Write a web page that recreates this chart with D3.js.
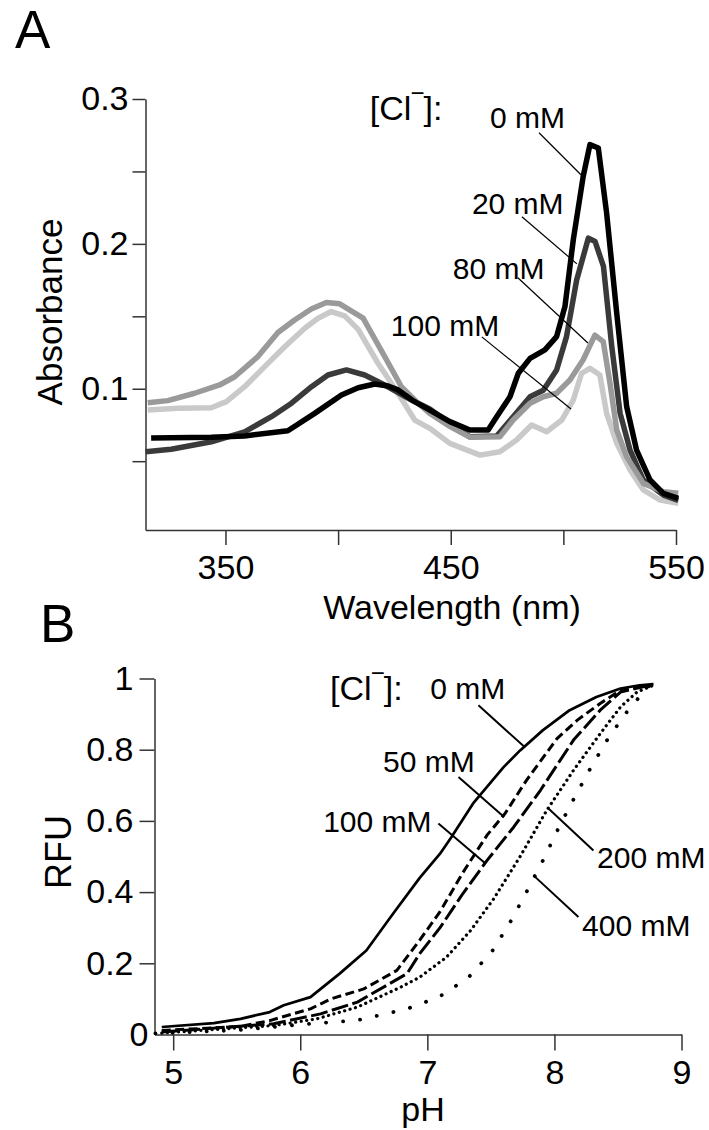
<!DOCTYPE html>
<html>
<head>
<meta charset="utf-8">
<script src="https://cdn.jsdelivr.net/npm/d3@7"></script>
<style>
body { margin: 0; background: #fff; }
svg { display: block; }
text { font-family: "Liberation Sans", Arial, sans-serif; fill: #000; }
</style>
</head>
<body>
<script>
// ---- panel A : absorbance spectra, [nm, absorbance]
var abs0 = [[317,0.066],[343.7,0.0665],[358.5,0.0674],[377.7,0.071],[389.6,0.083],[401.5,0.0957],[408.9,0.1007],[416.3,0.1033],[422.2,0.1019],[426.6,0.0992],[433,0.092],[440.7,0.0853],[449.6,0.0773],[458.5,0.0715],[466.6,0.0715],[470.4,0.0807],[476.3,0.0945],[480,0.1107],[485.2,0.121],[491.8,0.1268],[497,0.136],[500.7,0.1567],[504.4,0.2028],[508.8,0.2466],[511.8,0.2685],[515.5,0.2662],[519.2,0.2213],[523.7,0.152],[528.1,0.0876],[532.5,0.0577],[538.5,0.037],[544.4,0.0278],[551,0.0243]];
var abs20 = [[314.5,0.0565],[325.9,0.0582],[343.7,0.0634],[358.5,0.0703],[370.4,0.0807],[379.3,0.09],[388.2,0.1014],[395.5,0.1095],[403.7,0.113],[411.8,0.1095],[420.7,0.1026],[432.6,0.0922],[440.7,0.086],[449.6,0.076],[458.5,0.0669],[470.4,0.0674],[477.7,0.0807],[485.2,0.0945],[491.1,0.099],[497,0.113],[501.4,0.136],[505.9,0.175],[511.1,0.204],[514.1,0.2016],[517.8,0.1844],[521.5,0.129],[525.2,0.083],[529.6,0.0577],[535.5,0.037],[544.4,0.0266],[551,0.023]];
var abs80 = [[315.5,0.0904],[324.4,0.0918],[336.3,0.0969],[347.4,0.1026],[354.1,0.1083],[364.4,0.1222],[373.3,0.1388],[380.7,0.1475],[388.1,0.155],[394.8,0.1595],[400.7,0.1586],[411.1,0.1487],[420.7,0.1222],[428.1,0.1014],[435.5,0.09],[440.7,0.083],[449.6,0.074],[458.5,0.0665],[471.8,0.0669],[477.7,0.0784],[485.2,0.09],[491.1,0.0945],[497,0.0969],[502.9,0.106],[508.8,0.12],[514,0.137],[517.7,0.1325],[520.7,0.1038],[523.7,0.0715],[528.1,0.053],[535.5,0.0347],[544.4,0.0289],[551,0.0278]];
var abs100 = [[315.5,0.0853],[328.9,0.0865],[343.7,0.0869],[350.4,0.0911],[358.5,0.1014],[367.4,0.1153],[376.3,0.129],[385.2,0.1418],[391.1,0.1487],[397,0.1533],[402.9,0.1503],[408.9,0.141],[417.7,0.1176],[426.6,0.0969],[434,0.0784],[440.7,0.0727],[449.6,0.0623],[463,0.0542],[471.8,0.0565],[479.2,0.0646],[485.9,0.075],[492.6,0.0703],[499.3,0.0784],[504.4,0.0922],[508.1,0.1107],[511.8,0.1141],[516.2,0.1095],[519.2,0.083],[523.7,0.0623],[529.6,0.0439],[535.5,0.0301],[543,0.0231],[551,0.0209]];
var wlTicks = [350, 400, 450, 500, 550];
var wlLabels = [350, 450, 550];
var absTicks = [0.05, 0.1, 0.15, 0.2, 0.25, 0.3];
var absLabels = [0.1, 0.2, 0.3];

// ---- panel B : pH titration, [pH, RFU]
var rfu0 = [[4.91,0.021],[5.32,0.032],[5.53,0.044],[5.76,0.063],[5.87,0.082],[6.08,0.105],[6.31,0.171],[6.52,0.236],[6.73,0.339],[6.94,0.44],[7.1,0.508],[7.19,0.555],[7.36,0.649],[7.6,0.751],[7.73,0.798],[7.91,0.855],[8.12,0.911],[8.33,0.948],[8.52,0.972],[8.67,0.981],[8.78,0.984]];
var rfu50 = [[4.91,0.011],[5.53,0.023],[5.76,0.039],[6.08,0.072],[6.24,0.1],[6.5,0.128],[6.76,0.18],[6.94,0.265],[7.1,0.345],[7.28,0.455],[7.47,0.56],[7.61,0.62],[7.78,0.714],[8.02,0.831],[8.18,0.883],[8.36,0.93],[8.52,0.967],[8.75,0.981]];
var rfu100 = [[4.91,0.007],[5.79,0.03],[6.16,0.058],[6.45,0.091],[6.84,0.171],[6.94,0.227],[7.1,0.3],[7.28,0.396],[7.47,0.489],[7.68,0.583],[7.89,0.686],[8.15,0.827],[8.36,0.911],[8.52,0.962],[8.75,0.981]];
var rfu200 = [[4.91,0.004],[5.79,0.025],[6.13,0.044],[6.45,0.077],[6.79,0.133],[6.94,0.161],[7.15,0.217],[7.34,0.292],[7.52,0.38],[7.73,0.5],[7.94,0.63],[8.15,0.742],[8.36,0.845],[8.52,0.92],[8.65,0.962],[8.78,0.981]];
var rfu400 = [[4.86,0.003],[5.5,0.012],[6.0,0.028],[6.45,0.04],[6.84,0.072],[7.09,0.105],[7.32,0.159],[7.51,0.234],[7.65,0.314],[7.78,0.4],[7.91,0.489],[8.03,0.578],[8.16,0.667],[8.29,0.752],[8.43,0.836],[8.59,0.916],[8.75,0.981]];
var phTicks = [5, 6, 7, 8, 9];
var rfuTicks = [0, 0.2, 0.4, 0.6, 0.8, 1];

var width = 709, height = 1130;
var svg = d3.select("body").append("svg").attr("width", width).attr("height", height);

function styleAxis(g, size) {
  g.attr("font-size", size).attr("font-family", '"Liberation Sans", Arial, sans-serif');
  g.selectAll("path, line").attr("stroke", "#333").attr("stroke-width", 1.5);
  g.selectAll("text").attr("fill", "#000");
}

// superscript chloride label
function clLabel(x, y) {
  var t = svg.append("text").attr("x", x).attr("y", y).attr("font-size", 34);
  t.append("tspan").text("[Cl");
  t.append("tspan").attr("dx", -1).attr("dy", -19).attr("font-size", 24).text("\u2212");
  t.append("tspan").attr("dx", -1).attr("dy", 19).text("]:");
}

// ================= A =================
var xA = d3.scaleLinear().domain([314.5, 550]).range([145.5, 676]);
var yA = d3.scaleLinear().domain([0.0025, 0.3]).range([530, 99]);

var gxA = svg.append("g").attr("transform", "translate(0,530)")
  .call(d3.axisBottom(xA).tickValues(wlTicks).tickSize(15).tickSizeOuter(0).tickPadding(10)
    .tickFormat(function(d) { return wlLabels.indexOf(d) >= 0 ? d : ""; }));
styleAxis(gxA, 34);

var gyA = svg.append("g").attr("transform", "translate(145.5,0)")
  .call(d3.axisLeft(yA).tickValues(absTicks).tickSize(13).tickSizeOuter(0).tickPadding(4)
    .tickFormat(function(d) {
      return absLabels.some(function(v) { return Math.abs(v - d) < 1e-9; }) ? d3.format(".1f")(d) : "";
    }));
styleAxis(gyA, 34);

var lineA = d3.line().x(function(d) { return xA(d[0]); }).y(function(d) { return yA(d[1]); });
var seriesA = [
  { data: abs100, color: "#c9c9c9" },
  { data: abs20, color: "#3a3a3a" },
  { data: abs80, color: "#9a9a9a" },
  { data: abs0, color: "#000" }
];
svg.append("g").selectAll("path").data(seriesA).join("path")
  .attr("d", function(s) { return lineA(s.data); })
  .attr("fill", "none")
  .attr("stroke", function(s) { return s.color; })
  .attr("stroke-width", 5.5)
  .attr("stroke-linejoin", "round");

// labels with leader lines (data units)
var notesA = [
  { t: "0 mM", at: [467.4, 0.2802], p1: [489.2, 0.2767], p2: [507.8, 0.2477] },
  { t: "20 mM", at: [459.4, 0.2208], p1: [481.6, 0.2187], p2: [506.0, 0.1862] },
  { t: "80 mM", at: [450.9, 0.1759], p1: [479.8, 0.1766], p2: [510.9, 0.1316] },
  { t: "100 mM", at: [423.4, 0.1365], p1: [463.8, 0.1358], p2: [503.4, 0.086] }
];
svg.append("g").selectAll("line").data(notesA).join("line")
  .attr("x1", function(d) { return xA(d.p1[0]); }).attr("y1", function(d) { return yA(d.p1[1]); })
  .attr("x2", function(d) { return xA(d.p2[0]); }).attr("y2", function(d) { return yA(d.p2[1]); })
  .attr("stroke", "#000").attr("stroke-width", 1.2);
svg.append("g").selectAll("text").data(notesA).join("text")
  .attr("x", function(d) { return xA(d.at[0]); }).attr("y", function(d) { return yA(d.at[1]); })
  .attr("font-size", 30).text(function(d) { return d.t; });
clLabel(xA(414.1), yA(0.2857));

svg.append("text").attr("x", 15).attr("y", 48).attr("font-size", 53).text("A");
svg.append("text").attr("x", 452).attr("y", 619).attr("font-size", 34)
  .attr("text-anchor", "middle").text("Wavelength (nm)");
svg.append("text").attr("transform", "translate(62,312) rotate(-90)").attr("font-size", 35)
  .attr("text-anchor", "middle").text("Absorbance");

// ================= B =================
var xB = d3.scaleLinear().domain([4.853, 9]).range([154.5, 681.5]);
var yB = d3.scaleLinear().domain([0, 1]).range([1034.5, 678.5]);

var gxB = svg.append("g").attr("transform", "translate(0,1034.5)")
  .call(d3.axisBottom(xB).tickValues(phTicks).tickSize(16).tickSizeOuter(0).tickPadding(9)
    .tickFormat(d3.format("d")));
styleAxis(gxB, 34);

var gyB = svg.append("g").attr("transform", "translate(154.5,0)")
  .call(d3.axisLeft(yB).tickValues(rfuTicks).tickSize(15).tickSizeOuter(0).tickPadding(6)
    .tickFormat(function(d) { return d === 0 || d === 1 ? String(d) : d3.format(".1f")(d); }));
styleAxis(gyB, 34);
gyB.selectAll(".tick").filter(function(d) { return d === 0; })
  .call(function(t) { t.select("line").remove(); t.select("text").attr("x", -6); });

var lineB = d3.line().x(function(d) { return xB(d[0]); }).y(function(d) { return yB(d[1]); });
var seriesB = [
  { data: rfu400, w: 3.8, dash: "0.1,17", cap: "round" },
  { data: rfu200, w: 3.2, dash: "0.1,5.5", cap: "round" },
  { data: rfu100, w: 3, dash: "17,4.5", cap: "butt" },
  { data: rfu50, w: 3, dash: "9,4.5", cap: "butt" },
  { data: rfu0, w: 2.7, dash: null, cap: "butt" }
];
svg.append("g").selectAll("path").data(seriesB).join("path")
  .attr("d", function(s) { return lineB(s.data); })
  .attr("fill", "none")
  .attr("stroke", "#000")
  .attr("stroke-width", function(s) { return s.w; })
  .attr("stroke-dasharray", function(s) { return s.dash; })
  .attr("stroke-linecap", function(s) { return s.cap; })
  .attr("stroke-linejoin", "round");

var notesB = [
  { t: "0 mM", at: [7.022, 0.942], p1: [7.402, 0.925], p2: [7.77, 0.806] },
  { t: "50 mM", at: [6.652, 0.737], p1: [7.245, 0.723], p2: [7.604, 0.611] },
  { t: "100 mM", at: [6.18, 0.568], p1: [7.087, 0.593], p2: [7.455, 0.481] },
  { t: "200 mM", at: [8.336, 0.467], p1: [7.953, 0.635], p2: [8.307, 0.517] },
  { t: "400 mM", at: [8.218, 0.278], p1: [7.835, 0.447], p2: [8.189, 0.33] }
];
svg.append("g").selectAll("line").data(notesB).join("line")
  .attr("x1", function(d) { return xB(d.p1[0]); }).attr("y1", function(d) { return yB(d.p1[1]); })
  .attr("x2", function(d) { return xB(d.p2[0]); }).attr("y2", function(d) { return yB(d.p2[1]); })
  .attr("stroke", "#000").attr("stroke-width", 2);
svg.append("g").selectAll("text").data(notesB).join("text")
  .attr("x", function(d) { return xB(d.at[0]); }).attr("y", function(d) { return yB(d.at[1]); })
  .attr("font-size", 30).text(function(d) { return d.t; });
clLabel(xB(6.235), yB(0.939));

svg.append("text").attr("x", 40).attr("y", 642).attr("font-size", 53).text("B");
svg.append("text").attr("x", 423).attr("y", 1121).attr("font-size", 34)
  .attr("text-anchor", "middle").text("pH");
svg.append("text").attr("transform", "translate(71,852) rotate(-90)").attr("font-size", 36)
  .attr("text-anchor", "middle").text("RFU");
</script>
</body>
</html>
